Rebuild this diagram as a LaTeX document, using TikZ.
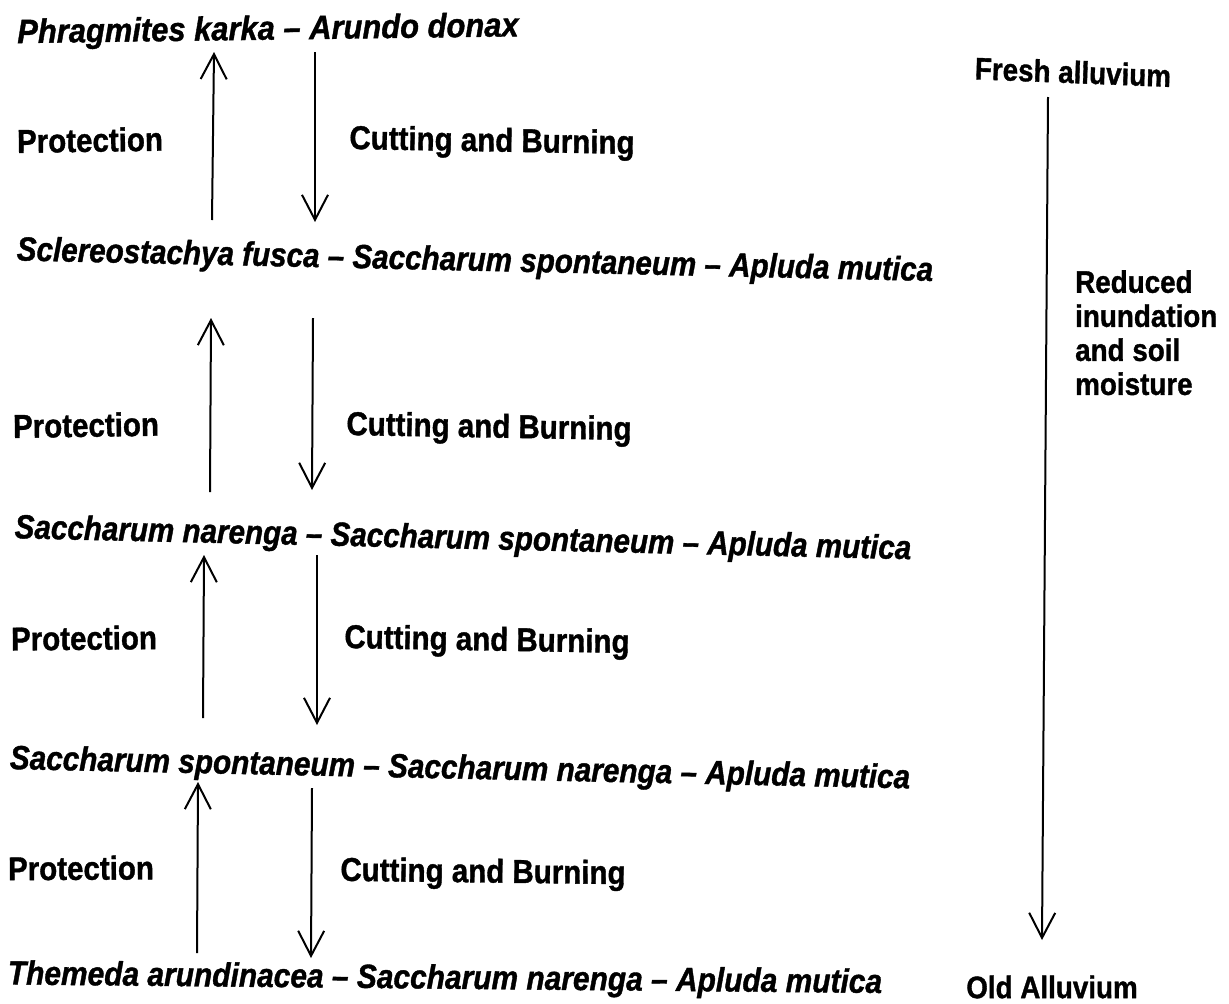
\documentclass[tikz,border=0pt]{standalone}
\usepackage{fontspec}
\setmainfont{Liberation Sans}[BoldFeatures={FakeBold=1.2},BoldItalicFeatures={FakeBold=1.2}]
\usetikzlibrary{arrows.meta}
\begin{document}
\begin{tikzpicture}[x=1pt,y=-1pt,
  lab/.style={font=\bfseries\fontsize{29.5}{33}\selectfont, inner sep=0pt, yscale=1.12},
  rlab/.style={font=\bfseries\fontsize{27.8}{30.4}\selectfont, inner sep=0pt, yscale=1.12},
  sp/.style={font=\bfseries\itshape\fontsize{30}{34}\selectfont, inner sep=0pt, yscale=1.12},
  arr/.style={line width=2pt, -{Straight Barb[length=25pt,width=26pt]}}]
\fill[white] (0,0) rectangle (1229,1004);
\useasboundingbox (0,0) rectangle (1229,1004);

% species lines
\node[sp, rotate=0.7, xscale=1.03]  (L1) at (268,31)  {Phragmites karka – Arundo donax};
\node[sp, rotate=-1.15, xscale=0.987] (L2) at (475,262) {Sclereostachya fusca – Saccharum spontaneum – Apluda mutica};
\node[sp, rotate=-1.2, xscale=0.987] (L3) at (463,540) {Saccharum narenga – Saccharum spontaneum – Apluda mutica};
\node[sp, rotate=-1.1, xscale=0.991] (L4) at (460,770) {Saccharum spontaneum – Saccharum narenga – Apluda mutica};
\node[sp, rotate=-0.5, xscale=0.997] (L5) at (445,980) {Themeda arundinacea – Saccharum narenga – Apluda mutica};

% labels
\node[lab, rotate=0.8]  (P1) at (90,140) {Protection};
\node[lab, rotate=-0.9] (C1) at (492,143) {Cutting and Burning};
\node[lab, rotate=0.8]  (P2) at (86,425) {Protection};
\node[lab, rotate=-0.9] (C2) at (489,429) {Cutting and Burning};
\node[lab, rotate=0.5]  (P3) at (84,638) {Protection};
\node[lab, rotate=-0.9] (C3) at (487,642) {Cutting and Burning};
\node[lab, rotate=0.3]  (P4) at (81,868) {Protection};
\node[lab, rotate=-0.6] (C4) at (483,874) {Cutting and Burning};

% right side
\node[rlab, rotate=-2] (FA) at (1073,72) {Fresh alluvium};
\node[rlab, anchor=north west, align=left] (RI) at (1075,270) {Reduced\\inundation\\and soil\\moisture};
\node[rlab] (OA) at (1052,987) {Old Alluvium};

% arrow end points
\coordinate (u1a) at (212,220); \coordinate (u1b) at (214,52);
\coordinate (d1a) at (315,52);  \coordinate (d1b) at (315,222);
\coordinate (u2a) at (210,492); \coordinate (u2b) at (211,318);
\coordinate (d2a) at (313,318); \coordinate (d2b) at (312,490);
\coordinate (u3a) at (203,718); \coordinate (u3b) at (204,555);
\coordinate (d3a) at (317,555); \coordinate (d3b) at (317,725);
\coordinate (u4a) at (197,953); \coordinate (u4b) at (198,782);
\coordinate (d4a) at (312,788); \coordinate (d4b) at (311,958);
\coordinate (ra) at (1048,97);  \coordinate (rb) at (1042,940);

\draw[arr] (u1a) -- (u1b);
\draw[arr] (d1a) -- (d1b);
\draw[arr] (u2a) -- (u2b);
\draw[arr] (d2a) -- (d2b);
\draw[arr] (u3a) -- (u3b);
\draw[arr] (d3a) -- (d3b);
\draw[arr] (u4a) -- (u4b);
\draw[arr] (d4a) -- (d4b);
\draw[arr] (ra) -- (rb);
\end{tikzpicture}
\end{document}
